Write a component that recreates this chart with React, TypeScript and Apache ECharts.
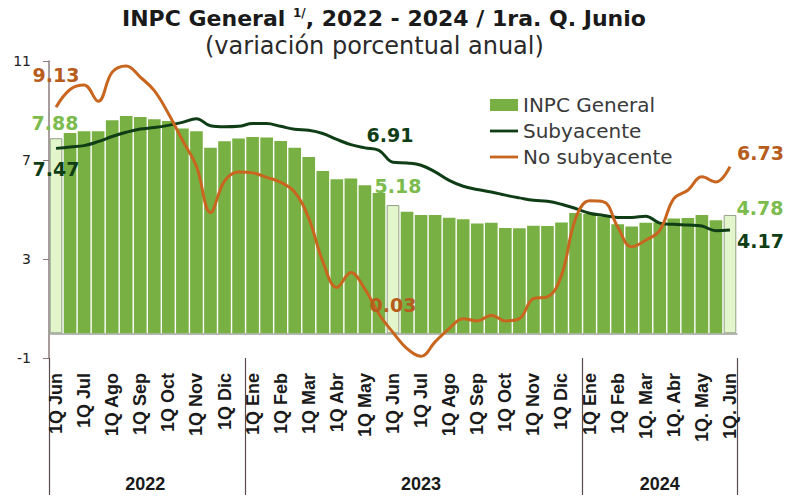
import React, { useEffect, useRef } from "react";
import * as echarts from "echarts";

// ---------- data ----------
const categories = [
  "1Q Jun", "2Q Jun", "1Q Jul", "2Q Jul", "1Q Ago", "2Q Ago", "1Q Sep", "2Q Sep", "1Q Oct", "2Q Oct", "1Q Nov", "2Q Nov", "1Q Dic", "2Q Dic",
  "1Q Ene", "2Q Ene", "1Q Feb", "2Q Feb", "1Q Mar", "2Q Mar", "1Q Abr", "2Q Abr", "1Q May", "2Q May", "1Q Jun", "2Q Jun",
  "1Q Jul", "2Q Jul", "1Q Ago", "2Q Ago", "1Q Sep", "2Q Sep", "1Q Oct", "2Q Oct", "1Q Nov", "2Q Nov", "1Q Dic", "2Q Dic",
  "1Q Ene", "2Q Ene", "1Q Feb", "2Q Feb", "1Q. Mar", "2Q. Mar", "1Q. Abr", "2Q. Abr", "1Q. May", "2Q. May", "1Q. Jun",
];

const inpcGeneral = [
  7.88, 8.09, 8.16, 8.16, 8.61, 8.78, 8.74, 8.65, 8.58, 8.27, 8.16, 7.49, 7.76, 7.87,
  7.93, 7.91, 7.77, 7.49, 7.12, 6.56, 6.22, 6.25, 5.98, 5.67, 5.18, 4.91,
  4.78, 4.78, 4.67, 4.61, 4.43, 4.46, 4.25, 4.24, 4.34, 4.33, 4.47, 4.86,
  4.82, 4.72, 4.40, 4.31, 4.46, 4.47, 4.64, 4.66, 4.78, 4.57, 4.78,
];

const subyacente = [
  7.47, 7.53, 7.58, 7.74, 7.95, 8.12, 8.25, 8.31, 8.40, 8.52, 8.67, 8.38, 8.34, 8.36,
  8.47, 8.47, 8.36, 8.24, 8.20, 8.07, 7.83, 7.62, 7.49, 7.39, 6.91, 6.88,
  6.79, 6.52, 6.18, 5.94, 5.81, 5.71, 5.58, 5.47, 5.37, 5.33, 5.21, 5.04,
  4.85, 4.76, 4.68, 4.68, 4.73, 4.45, 4.40, 4.37, 4.33, 4.14, 4.17,
];

const noSubyacente = [
  9.13, 9.85, 10.03, 9.37, 10.55, 10.80, 10.35, 9.80, 8.88, 7.80, 6.75, 4.88, 6.15, 6.52,
  6.48, 6.30, 6.10, 5.70, 4.65, 2.90, 1.85, 2.45, 1.78, 0.78, 0.03, -0.62,
  -0.93, -0.35, 0.19, 0.59, 0.50, 0.73, 0.50, 0.59, 1.40, 1.47, 2.34, 4.63,
  5.35, 5.31, 4.30, 3.49, 3.76, 4.16, 5.44, 5.78, 6.32, 6.11, 6.73,
];

const yTicks = [-1, 3, 7, 11];
const highlighted = [0, 24, 48];
const yearStarts = [0, 14, 38];
const yearLabels: Record<number, string> = { 6: "2022", 26: "2023", 43: "2024" };

// ---------- styles ----------
const GREEN = "#78b043";
const LIGHT_GREEN = "#e3f5cb";
const LABEL_GREEN = "#7cbb4e";
const DARK_GREEN = "#0f3d15";
const ORANGE = "#c8651f";
const ORANGE_LABEL = "#b65d1d";
const SANS = "DejaVu Sans";
const ARIAL = "Liberation Sans";
const LINE_ICON = "path://M0,0H30V3H0Z";

const fmt = (p: any) => Number(p.value).toFixed(2);

const barLabels: Record<number, any> = {
  0: { position: "top", distance: 6, offset: [-1, 0] },
  24: { position: "top", distance: 10, offset: [5, 0] },
  48: { position: "top", distance: 0, offset: [30, 3] },
};
const subLabels: Record<number, any> = {
  0: { position: "bottom", distance: 11, offset: [0, 0] },
  24: { position: "top", distance: 18, offset: [-3, 0] },
  48: { position: "right", distance: 7, offset: [0, 11] },
};
const noSubLabels: Record<number, any> = {
  0: { position: "top", distance: 23, offset: [0, 0] },
  24: { position: "top", distance: 18, offset: [0, 0] },
  48: { position: "right", distance: 7, offset: [0, -14] },
};

const labelBase = { show: true, fontFamily: SANS, fontWeight: "bold", fontSize: 19, formatter: fmt };

export default function App() {
  const ref = useRef<HTMLDivElement>(null);

  useEffect(() => {
    if (!ref.current) return;
    const chart = echarts.init(ref.current, undefined, { renderer: "svg" });

    const barData = inpcGeneral.map((v, i) =>
      highlighted.includes(i)
        ? {
            value: v,
            itemStyle: { color: LIGHT_GREEN, borderColor: "#93a287", borderWidth: 1 },
            label: { ...labelBase, color: LABEL_GREEN, ...barLabels[i] },
          }
        : v
    );
    const lineData = (arr: number[], labels: Record<number, any>, color: string) =>
      arr.map((v, i) =>
        labels[i] ? { value: v, label: { ...labelBase, color, ...labels[i] } } : v
      );

    const option: any = {
      animation: false,
      backgroundColor: "#ffffff",
      title: [
        {
          text: "INPC General {sup|1/}, 2022 - 2024 / 1ra. Q. Junio",
          left: 117,
          top: 2,
          textStyle: {
            fontFamily: SANS,
            fontWeight: "bold",
            fontSize: 22,
            color: "#1a1a1a",
            rich: {
              sup: { fontFamily: SANS, fontSize: 12, verticalAlign: "top", padding: [0, 0, 10, 0], color: "#1a1a1a" },
            },
          },
        },
        {
          text: "(variación porcentual anual)",
          left: 200,
          top: 29,
          textStyle: { fontFamily: SANS, fontWeight: "normal", fontSize: 24, color: "#2a2a2a" },
        },
      ],
      legend: {
        orient: "vertical",
        left: 485,
        top: 90,
        itemWidth: 28,
        itemHeight: 12,
        itemGap: 6,
        textStyle: { fontFamily: SANS, fontSize: 20, color: "#3a3a3a" },
        data: [
          { name: "INPC General", icon: "rect" },
          { name: "Subyacente", icon: LINE_ICON },
          { name: "No subyacente", icon: LINE_ICON },
        ],
      },
      grid: { left: 49, right: 51, top: 61, bottom: 140, containLabel: false },
      xAxis: [
        {
          type: "category",
          data: categories,
          axisLine: { show: true, onZero: true, lineStyle: { color: "#a0a0a0", width: 1.5 } },
          axisTick: { show: false },
          axisLabel: { show: false },
        },
        {
          type: "category",
          data: categories,
          position: "bottom",
          axisLine: { show: false, onZero: false },
          axisTick: { show: false },
          axisLabel: {
            interval: 1,
            rotate: 90,
            margin: 15,
            fontFamily: ARIAL,
            fontWeight: "bold",
            fontSize: 18,
            color: "#1a1a1a",
          },
        },
        {
          type: "category",
          data: categories,
          position: "bottom",
          axisLine: { show: false, onZero: false },
          axisTick: {
            show: true,
            interval: (i: number) => yearStarts.includes(i),
            length: 137,
            lineStyle: { color: "#5a4a4a", width: 1.2 },
          },
          axisLabel: {
            interval: (i: number) => yearLabels[i] !== undefined,
            formatter: (_v: string, i: number) => (i === 6 ? "{a|" + yearLabels[i] + "}" : yearLabels[i] || ""),
            margin: 117,
            fontFamily: ARIAL,
            fontWeight: "bold",
            fontSize: 18,
            color: "#1a1a1a",
            rich: {
              a: { fontFamily: ARIAL, fontWeight: "bold", fontSize: 18, color: "#1a1a1a", padding: [0, 0, 0, 10] },
            },
          },
        },
      ],
      yAxis: {
        type: "value",
        min: -1,
        max: 11,
        splitLine: { show: false },
        axisLine: { show: true, lineStyle: { color: "#8a7c7c", width: 1.5 } },
        axisTick: { show: true, customValues: yTicks, length: 6, lineStyle: { color: "#8a7c7c" } },
        axisLabel: { customValues: yTicks, margin: 18, fontFamily: SANS, fontSize: 14, color: "#222" },
      },
      series: [
        {
          name: "INPC General",
          type: "bar",
          xAxisIndex: 0,
          barCategoryGap: "10%",
          itemStyle: { color: GREEN },
          data: barData,
          z: 2,
        },
        {
          name: "Subyacente",
          type: "line",
          xAxisIndex: 0,
          smooth: 0.4,
          symbol: "circle",
          symbolSize: 0,
          showSymbol: true,
          showAllSymbol: true,
          lineStyle: { color: DARK_GREEN, width: 3 },
          itemStyle: { color: DARK_GREEN },
          data: lineData(subyacente, subLabels, DARK_GREEN),
          z: 3,
        },
        {
          name: "No subyacente",
          type: "line",
          xAxisIndex: 0,
          smooth: 0.4,
          symbol: "circle",
          symbolSize: 0,
          showSymbol: true,
          showAllSymbol: true,
          lineStyle: { color: ORANGE, width: 3 },
          itemStyle: { color: ORANGE },
          data: lineData(noSubyacente, noSubLabels, ORANGE_LABEL),
          z: 4,
        },
      ],
    };

    chart.setOption(option);
    return () => chart.dispose();
  }, []);

  return (
    <div
      ref={ref}
      style={{ position: "fixed", left: 0, top: 0, width: 788, height: 498, background: "#fff" }}
    />
  );
}
